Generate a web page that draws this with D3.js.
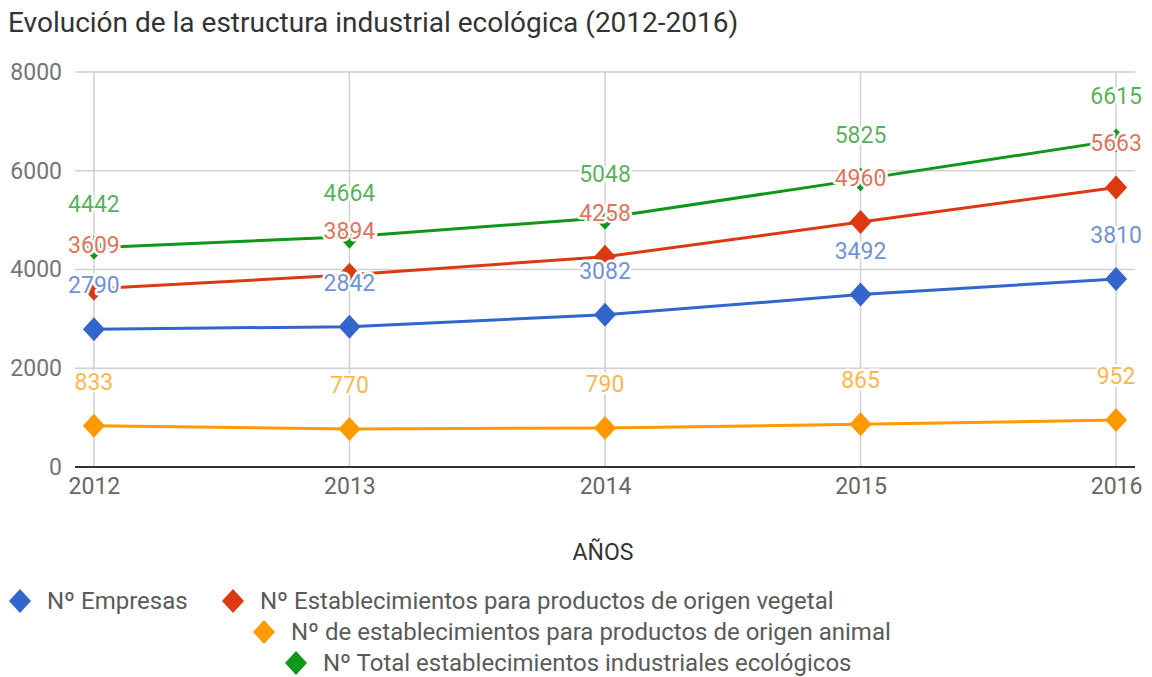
<!DOCTYPE html>
<html>
<head>
<meta charset="utf-8">
<script src="https://cdn.jsdelivr.net/npm/d3@7"></script>
<style>
  body { margin: 0; background: #fff; }
  svg { display: block; font-family: Roboto, sans-serif; }
</style>
</head>
<body>
<svg id="chart" width="1152" height="677"></svg>
<script>
var years = ['2012', '2013', '2014', '2015', '2016'];
var seriesNames = [
  'Nº Empresas',
  'Nº Establecimientos para productos de origen vegetal',
  'Nº de establecimientos para productos de origen animal',
  'Nº Total establecimientos industriales ecológicos'
];
var seriesColors = ['#3366cc', '#dc3912', '#ff9900', '#109618'];
var empresas = [2790, 2842, 3082, 3492, 3810];
var vegetal = [3609, 3894, 4258, 4960, 5663];
var animal = [833, 770, 790, 865, 952];
var total = [4442, 4664, 5048, 5825, 6615];
var yTicks = [0, 2000, 4000, 6000, 8000];

var allSeries = [empresas, vegetal, animal, total];

function drawChart(){
  var svg = d3.select('#chart');

  // plot area
  var pLeft = 75, pRight = 1135, pTop = 72, pBottom = 467;

  var x = d3.scalePoint()
    .domain(years)
    .range([pLeft, pRight])
    .padding(0.074);

  var y = d3.scaleLinear()
    .domain([0, 8000])
    .range([pBottom, pTop]);

  // title
  svg.append('text')
    .attr('x', 8)
    .attr('y', 32)
    .style('font-size', '28px')
    .style('fill', '#333')
    .text('Evolución de la estructura industrial ecológica (2012-2016)');

  // horizontal gridlines
  svg.append('g')
    .selectAll('line')
    .data(yTicks.filter(function(d){ return d > 0; }))
    .enter()
    .append('line')
    .attr('x1', pLeft).attr('x2', pRight)
    .attr('y1', function(d){ return y(d); })
    .attr('y2', function(d){ return y(d); })
    .style('stroke', '#d0d0d0')
    .style('stroke-width', 1.5);

  // vertical gridlines
  svg.append('g')
    .selectAll('line')
    .data(years)
    .enter()
    .append('line')
    .attr('x1', function(d){ return x(d); })
    .attr('x2', function(d){ return x(d); })
    .attr('y1', pTop).attr('y2', pBottom)
    .style('stroke', '#d0d0d0')
    .style('stroke-width', 1.5);

  // baseline
  svg.append('line')
    .attr('x1', pLeft).attr('x2', pRight)
    .attr('y1', y(0)).attr('y2', y(0))
    .style('stroke', '#333')
    .style('stroke-width', 2);

  // y axis labels
  var yAxis = d3.axisLeft(y).tickValues(yTicks).tickSize(0).tickPadding(0)
    .tickFormat(d3.format('d'));
  var gy = svg.append('g')
    .attr('transform', 'translate(62,0)')
    .call(yAxis);
  gy.select('.domain').remove();
  gy.selectAll('text')
    .style('font-size', '23px')
    .style('font-family', 'Roboto, sans-serif')
    .style('fill', '#757575');

  // x axis labels
  var xAxis = d3.axisBottom(x).tickSize(0).tickPadding(0);
  var gx = svg.append('g')
    .attr('transform', 'translate(0,' + (pBottom + 11) + ')')
    .call(xAxis);
  gx.select('.domain').remove();
  gx.selectAll('text')
    .style('font-size', '23px')
    .style('font-family', 'Roboto, sans-serif')
    .style('fill', '#666');

  // x axis title
  svg.append('text')
    .attr('x', 603)
    .attr('y', 560)
    .attr('text-anchor', 'middle')
    .style('font-size', '23px')
    .style('fill', '#333')
    .text('AÑOS');

  var diamond = function(s){
    return 'M0,' + (-s) + 'L' + (s - 1) + ',0L0,' + s + 'L' + (-(s - 1)) + ',0Z';
  };

  var line = d3.line()
    .x(function(d, i){ return x(years[i]); })
    .y(function(d){ return y(d); });

  // lines
  svg.append('g')
    .selectAll('path')
    .data(allSeries)
    .enter()
    .append('path')
    .attr('d', line)
    .style('fill', 'none')
    .style('stroke', function(d, i){ return seriesColors[i]; })
    .style('stroke-width', 3);

  // markers
  allSeries.forEach(function(vals, si){
    svg.append('g')
      .selectAll('path')
      .data(vals)
      .enter()
      .append('path')
      .attr('d', diamond(12))
      .attr('transform', function(d, i){
        return 'translate(' + x(years[i]) + ',' + y(d) + ')';
      })
      .style('fill', seriesColors[si]);
  });

  // data labels (white halo drawn over lines and markers)
  allSeries.forEach(function(vals, si){
    svg.append('g')
      .selectAll('text')
      .data(vals)
      .enter()
      .append('text')
      .attr('x', function(d, i){ return x(years[i]); })
      .attr('y', function(d){ return y(d) - 36; })
      .attr('text-anchor', 'middle')
      .style('font-size', '23px')
      .style('paint-order', 'stroke')
      .style('stroke', '#fff')
      .style('stroke-width', 5)
      .style('stroke-linejoin', 'round')
      .style('fill', seriesColors[si])
      .style('fill-opacity', 0.72)
      .text(function(d){ return d; });
  });

  // legend
  var legendPos = [[20, 601], [233, 601], [264, 632], [296, 663]];
  var legend = svg.append('g')
    .selectAll('g')
    .data(seriesNames)
    .enter()
    .append('g')
    .attr('transform', function(d, i){
      return 'translate(' + legendPos[i][0] + ',' + legendPos[i][1] + ')';
    });
  legend.append('path')
    .attr('d', diamond(12))
    .style('fill', function(d, i){ return seriesColors[i]; });
  legend.append('text')
    .attr('x', 27)
    .attr('y', 8)
    .style('font-size', '24px')
    .style('fill', '#5a5a5a')
    .text(function(d){ return d; });
}

drawChart();
</script>
</body>
</html>
